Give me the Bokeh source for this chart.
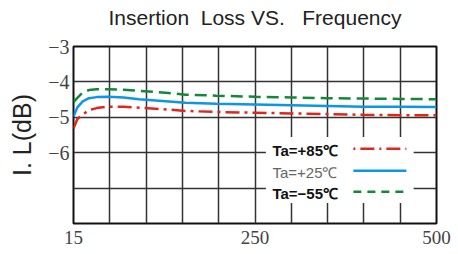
from bokeh.plotting import figure
from bokeh.models import FixedTicker, ColumnDataSource, Title
from bokeh.core.properties import value
from bokeh.embed import file_html
from bokeh.resources import INLINE

# ---- data ----
freq = [15, 20, 27, 35, 45, 60, 80, 100, 130, 160, 200, 250, 300, 350, 400, 450, 500]
il_p85 = [-5.32, -5.05, -4.92, -4.80, -4.74, -4.70, -4.70, -4.73, -4.77, -4.82, -4.85, -4.87, -4.89, -4.91, -4.93, -4.94, -4.94]
il_p25 = [-4.98, -4.72, -4.55, -4.46, -4.43, -4.42, -4.44, -4.49, -4.54, -4.59, -4.62, -4.64, -4.66, -4.68, -4.70, -4.70, -4.71]
il_m55 = [-4.57, -4.45, -4.30, -4.23, -4.21, -4.21, -4.22, -4.25, -4.30, -4.36, -4.39, -4.42, -4.44, -4.46, -4.47, -4.48, -4.49]
x_tick_freqs = [15, 250, 500]
y_ticks = [-3, -4, -5, -6, -7, -8]
y_labels = ["\u22123", "\u22124", "\u22125", "\u22126", "", ""]
legend_labels = ["Ta=+85\u2103", "Ta=+25\u2103", "Ta=\u221255\u2103"]
title_text = "Insertion \u00a0Loss VS. \u00a0\u00a0Frequency"

# frequency axis: 15..250 over first 5 divisions, 250..500 over last 5
def fx(f):
    return (f - 15) / 47.0 if f <= 250 else 5 + (f - 250) / 50.0

RED, BLUE, GREEN = "#e0261c", "#0c96e4", "#13883a"

p = figure(width=452, height=252, output_backend="svg", toolbar_location=None,
           x_range=(0, 10), y_range=(-8, -3),
           min_border_left=73, min_border_right=16, min_border_top=43, min_border_bottom=29)
p.background_fill_color = "white"
p.border_fill_color = "white"
p.outline_line_color = "#111111"
p.outline_line_width = 2

p.title.visible = False
p.add_layout(Title(text=" ", text_font_size="11px", standoff=0), "above")
p.add_layout(Title(text=title_text, text_font="Liberation Sans", text_font_size="21px",
                   text_font_style="normal", text_color="#222222", align="center",
                   standoff=7), "above")

# grid
p.xaxis.ticker = FixedTicker(ticks=list(range(0, 11)))
p.yaxis.ticker = FixedTicker(ticks=y_ticks)
for g in (p.xgrid, p.ygrid):
    g.grid_line_color = "#333333"
    g.grid_line_width = 1.5
    g.grid_line_alpha = 1.0

xo = {i: "" for i in range(0, 11)}
for f in x_tick_freqs:
    xo[int(round(fx(f)))] = str(f)
p.xaxis.major_label_overrides = xo
p.yaxis.major_label_overrides = {t: l for t, l in zip(y_ticks, y_labels)}

for ax in (p.xaxis, p.yaxis):
    ax.axis_line_color = None
    ax.major_tick_line_color = None
    ax.minor_tick_line_color = None
    ax.major_tick_out = 0
    ax.major_tick_in = 0
    ax.major_label_text_font = "Liberation Serif"
    ax.major_label_text_font_size = "20px"
    ax.major_label_text_color = "#444444"
p.xaxis.major_label_text_font_size = "19px"
p.xaxis.major_label_standoff = 7
p.yaxis.major_label_standoff = 4
p.yaxis.axis_label = "I. L(dB)"
p.yaxis.axis_label_text_font = "Liberation Sans"
p.yaxis.axis_label_text_font_size = "25px"
p.yaxis.axis_label_text_font_style = "normal"
p.yaxis.axis_label_text_color = "#222222"
p.yaxis.axis_label_standoff = 9

xs = [fx(f) for f in freq]
src = ColumnDataSource(dict(x=xs, p85=il_p85, p25=il_p25, m55=il_m55))

# legend box (white patch covering grid)
p.quad(left=[5.3], right=[9.37], bottom=[-7.42], top=[-5.56], fill_color="white", line_color=None)

p.line("x", "m55", source=src, line_color=GREEN, line_width=2.5, line_dash="12 6")
p.line("x", "p25", source=src, line_color=BLUE, line_width=2.5)
p.line("x", "p85", source=src, line_color=RED, line_width=2.5, line_dash="14 5 3 5")

# legend entries
ly = [-5.95, -6.57, -7.15]
lly = [-5.89, -6.51, -7.10]
styles = [("bold", "#111111"), ("normal", "#666666"), ("bold", "#111111")]
for lab, yy, (fs, col) in zip(legend_labels, ly, styles):
    p.text(x=[5.48], y=[yy], text=[lab], text_font=value("Liberation Sans"),
           text_font_size="15px", text_font_style=fs, text_color=col,
           text_baseline="middle", text_align="left")
p.line([7.71, 9.17], [lly[0]] * 2, line_color=RED, line_width=2.5, line_dash="2 5 14 5")
p.line([7.71, 9.17], [lly[1]] * 2, line_color=BLUE, line_width=2.5)
p.line([7.71, 9.17], [lly[2]] * 2, line_color=GREEN, line_width=2.5, line_dash="8 6")

open("out.html", "w").write(file_html(p, INLINE))
